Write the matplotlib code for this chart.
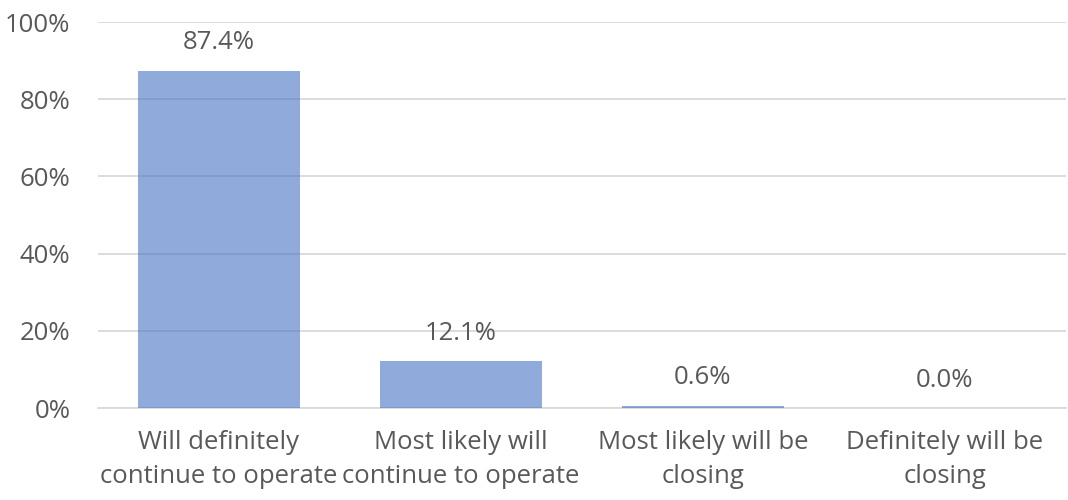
import matplotlib.pyplot as plt
import numpy as np

categories = ['Will definitely\ncontinue to operate', 'Most likely will\ncontinue to operate',
              'Most likely will be\nclosing', 'Definitely will be\nclosing']
values = [87.4, 12.1, 0.6, 0.0]
yticks = [0, 20, 40, 60, 80, 100]

plt.rcParams['font.family'] = ['Open Sans', 'DejaVu Sans']
text_color = '#595959'

fig = plt.figure(figsize=(10.68, 5.0), dpi=100)
ax = fig.add_axes([0.0918, 0.184, 0.906, 0.772])

x = np.arange(len(categories))
bars = ax.bar(x, values, width=0.67, color='#4472C4', alpha=0.6, zorder=3)

for xi, v in zip(x, values):
    ax.annotate(f'{v:.1f}%', (xi, v), xytext=(0, 11), textcoords='offset points',
                ha='center', va='bottom', fontsize=18.5, color=text_color)

ax.set_xlim(-0.5, len(categories) - 0.5)
ax.set_ylim(0, 100)
ax.set_yticks(yticks)
ax.set_yticklabels([f'{t}%' for t in yticks])
ax.set_xticks(x)
ax.set_xticklabels(categories, linespacing=1.45)
ax.tick_params(axis='both', length=0, labelsize=18.5, labelcolor=text_color)
ax.tick_params(axis='x', pad=16)
ax.tick_params(axis='y', pad=20)
ax.grid(axis='y', color='#D9D9D9', linewidth=1.3, zorder=0)
for s in ['top', 'right', 'left']:
    ax.spines[s].set_visible(False)
ax.spines['bottom'].set_color('#D9D9D9')
ax.spines['bottom'].set_linewidth(1.3)

fig.savefig('out.png', dpi=100)
